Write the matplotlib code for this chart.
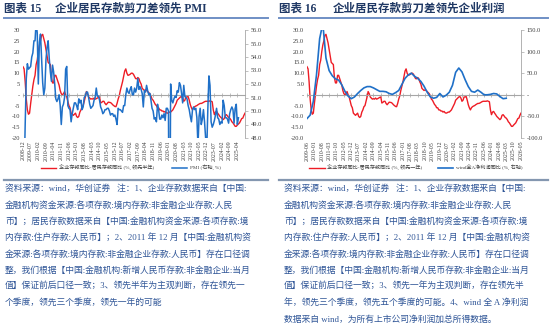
import matplotlib
matplotlib.use('Agg')
import matplotlib.pyplot as plt
import numpy as np
import pandas as pd
from matplotlib.lines import Line2D
from matplotlib.ticker import FuncFormatter

plt.rcParams['font.family'] = ['Liberation Serif', 'Noto Sans CJK SC']

# 企业存款同比-居民存款同比 (%), actual month 2008-06 .. 2025-05
spread_months = pd.period_range('2008-06', periods=204, freq='M')
spread = [
    13, 12, 6, -2, -7, -9, -8.5, -4, 0, 4, 7, 9,
    14, 16, 20, 23, 25, 27.5, 28, 26, 24, 21, 18, 15,
    14.5, 14, 8, 5.5, 5.5, 9, 9, 7.5, 6, 4.5, 2, 0.5,
    0, 0.5, 1.5, 0, -1, -3, -5, -6, -8.5, -9, -9.5, -9,
    -8.5, -10, -10.5, -10, -8, -7, -5.5, -5, -3, -1, 1.5, 0.5,
    -1, -1.5, -2, -1.8, -2, -1.5, -2, -1.8, -1.5, -1.2, -1, -3.8,
    -3.5, -3, -3, -4, -4.6, -4, -3.4, -3.5, -3.6, -4, -4.6, -5,
    -5.4, -5.5, -4, -2, -0.5, 2, 4, 6, 8.5, 11, 12, 10,
    9, 9.2, 9.5, 10, 10, 9.5, 8.5, 7.5, 7.4, 8, 7.5, 6,
    5, 3, 2.5, 2, 2.3, 2, 1.5, 1, 0.5, -0.5, -2, -2.5,
    -3.5, -4.5, -5, -6, -6, -7, -7, -7.5, -7.5, -8, -7.7, -8.3,
    -8.5, -8.3, -8, -8, -7.5, -7, -6, -5, -4, -2.5, -2, -1.5,
    -1, -0.8, -1.5, -3, -2.5, -1, -1, -0.8, -2.5, -4.6, -6, -7,
    -6, -5.5, -5.2, -5, -4.6, -4.3, -4, -4, -3.8, -3.5, -3.2, -3,
    -3, -3, -3, -2.8, -3, -3.2, -7, -9.2, -8, -7.7, -8.5, -9.2,
    -10, -10.5, -11, -11.5, -11, -9.5, -9.2, -9.8, -10.5, -10.8, -11.5, -12.5,
    -13, -13.8, -14.6, -14.6, -14, -13.5, -13, -12, -11, -10.8, -9.5, -8.5,
]

# 制造业PMI (%), 2008-12 .. 2025-05
pmi_months = pd.period_range('2008-12', periods=198, freq='M')
pmi = [
    41.2,
    45.3, 49.0, 52.4, 53.5, 53.1, 53.2, 53.3, 54.0, 54.3, 55.2, 55.2, 56.6,
    55.8, 52.0, 55.1, 55.7, 53.9, 52.1, 51.2, 51.7, 53.8, 54.7, 55.2, 53.9,
    52.9, 52.2, 53.4, 52.9, 52.0, 50.9, 50.7, 50.9, 51.2, 50.4, 49.0, 50.3,
    50.5, 51.0, 53.1, 53.3, 50.4, 50.2, 50.1, 49.2, 49.8, 50.2, 50.6, 50.6,
    50.4, 50.1, 50.9, 50.6, 50.8, 50.1, 50.3, 51.0, 51.1, 51.4, 51.4, 51.0,
    50.5, 50.2, 50.3, 50.4, 50.8, 51.0, 51.7, 51.1, 51.1, 50.8, 50.3, 50.1,
    49.8, 49.9, 50.1, 50.1, 50.2, 50.2, 50.0, 49.7, 49.8, 49.8, 49.6, 49.7,
    49.4, 49.0, 50.2, 50.1, 50.1, 50.0, 49.9, 50.4, 50.4, 51.2, 51.7, 51.4,
    51.3, 51.6, 51.8, 51.2, 51.2, 51.7, 51.4, 51.7, 52.4, 51.6, 51.8, 51.6,
    51.3, 50.3, 51.5, 51.4, 51.9, 51.5, 51.2, 51.3, 50.8, 50.2, 50.0, 49.4,
    49.5, 49.2, 50.5, 50.1, 49.4, 49.4, 49.7, 49.5, 49.8, 49.3, 50.2, 50.2,
    50.0, 35.7, 52.0, 50.8, 50.6, 50.9, 51.1, 51.0, 51.5, 51.4, 52.1, 51.9,
    51.3, 50.6, 51.9, 51.1, 51.0, 50.9, 50.4, 50.1, 49.6, 49.2, 50.1, 50.3,
    50.1, 50.2, 49.5, 47.4, 49.6, 50.2, 49.0, 49.4, 50.1, 49.2, 48.0, 47.0,
    50.1, 52.6, 51.9, 49.2, 48.8, 49.0, 49.3, 49.7, 50.2, 49.5, 49.4, 49.0,
    49.2, 49.1, 50.8, 50.4, 49.5, 49.5, 49.4, 49.1, 49.8, 50.1, 50.3, 50.1,
    49.1, 50.2, 50.5, 49.0, 49.5,
]

# category axes (month labels every 7 months)
left_axis = pd.period_range('2008-12', periods=204, freq='M')
right_axis = pd.period_range('2009-06', periods=204, freq='M')
left_tick_labels = [str(p) for p in left_axis[0:197:7]]
right_tick_labels = [str(p) for p in right_axis[0:204:7]]

# wind全A净利润同比 (%), quarterly, 2009-06 .. 2025-03
profit_months = right_axis[0:190:3]
profit = [
    -55, -47, -15, 46, 130, 165, 85, 56, 44, 37, 34, 23,
    8, -3, -9, -5, 3, 10, 16, 19, 19, 16, 12, 8,
    8, 7, 3, 1, 5, 10, 24, 38, 46, 50, 43, 38,
    31, 20, 6, -5, -8, -6, 3, -5, -1, 6, 22, 52,
    62, 53, 35, 19, 8, 6, 11, 6, 0, 0, 1, 3,
    2, -4, -9, -8,
]

footnote_common = [
    '资料来源：wind，华创证券   注：1、企业存款数据来自【中国:',
    '金融机构资金来源:各项存款:境内存款:非金融企业存款:人民',
    '币】；居民存款数据来自【中国:金融机构资金来源:各项存款:境',
    '内存款:住户存款:人民币】；2、2011 年 12 月【中国:金融机构资',
    '金来源:各项存款:境内存款:非金融企业存款:人民币】存在口径调',
    '整，我们根据【中国:金融机构:新增人民币存款:非金融企业:当月',
]
footnote_left = footnote_common + [
    '值】保证前后口径一致；3、领先半年为主观判断，存在领先一',
    '个季度，领先三个季度，领先一年的可能',
]
footnote_right = footnote_common + [
    '值】保证前后口径一致；3、领先一年为主观判断，存在领先半',
    '年，领先三个季度，领先五个季度的可能。4、wind 全 A 净利润',
    '数据来自 wind，为所有上市公司净利润加总所得数据。',
]

RED = '#ee1c25'
BLUE = '#1f70c8'
GRAY = '#a6a6a6'
TXT = '#404040'
NAVY = '#1f3864'
NOTE = '#2f5597'

W, H = 550, 335
fig = plt.figure(figsize=(W / 100, H / 100), dpi=100)
fig.patch.set_facecolor('white')


def box(x0, y0, x1, y1):
    return [x0 / W, 1 - y1 / H, (x1 - x0) / W, (y1 - y0) / H]


def pos(periods, start):
    return np.array([(p - start).n for p in periods])


def zero_dash(fmt):
    return FuncFormatter(lambda v, _: '-' if abs(v) < 1e-9 else fmt.format(v))


def style(ax, axr, labels):
    ax.set_xlim(0, 203)
    for s in ['top', 'left', 'right']:
        ax.spines[s].set_visible(False)
    ax.spines['bottom'].set_position(('data', 0))
    ax.spines['bottom'].set_color(GRAY)
    ax.spines['bottom'].set_linewidth(0.8)
    ticks = list(range(0, 7 * len(labels), 7))
    ax.set_xticks(ticks)
    ax.tick_params(axis='x', direction='inout', length=2.5, width=0.5,
                   color=GRAY, labelbottom=False)
    sec = ax.secondary_xaxis('bottom')
    sec.set_xticks(ticks, labels)
    sec.tick_params(length=0, labelsize=4.2, labelrotation=90, pad=2,
                    labelcolor=TXT)
    sec.spines['bottom'].set_visible(False)
    ax.tick_params(axis='y', length=0, labelsize=4.6, pad=2, labelcolor=TXT)
    for s in ['top', 'left', 'bottom']:
        axr.spines[s].set_visible(False)
    axr.spines['right'].set_color(GRAY)
    axr.spines['right'].set_linewidth(0.6)
    axr.tick_params(axis='y', direction='out', length=2, width=0.5,
                    color=GRAY, labelsize=4.6, pad=2, labelcolor=TXT)


# 图表15: 剪刀差 (领先半年) vs PMI
ax1 = fig.add_axes(box(23, 30, 245, 138))
ax1r = ax1.twinx()
l1, = ax1.plot(pos(spread_months + 6, left_axis[0]), spread, color=RED, lw=1.0)
l2, = ax1r.plot(pos(pmi_months, left_axis[0]), pmi, color=BLUE, lw=1.1)
ax1.set_ylim(-20, 30)
ax1.set_yticks(range(-20, 31, 5))
ax1.yaxis.set_major_formatter(zero_dash('{:g}'))
ax1r.set_ylim(48, 56)
ax1r.set_yticks(np.arange(48, 56.1, 1))
ax1r.yaxis.set_major_formatter(FuncFormatter(lambda v, _: f'{v:.1f}'))
style(ax1, ax1r, left_tick_labels)
ax1.legend([l1, l2], ['企业存款同比-居民存款同比 (%, 领先半年)', 'PMI (右轴, %)'],
           loc='center', bbox_to_anchor=(0.486, -0.272), ncol=2, frameon=False,
           fontsize=3.7, handlelength=3, handletextpad=0.5, columnspacing=3.5,
           labelcolor=TXT)

# 图表16: 剪刀差 (领先一年) vs 全A净利润
ax2 = fig.add_axes(box(307, 30, 521, 138))
ax2r = ax2.twinx()
r1, = ax2.plot(pos(spread_months + 12, right_axis[0]), spread, color=RED, lw=1.0)
r2, = ax2r.plot(pos(profit_months, right_axis[0]), profit, color=BLUE, lw=1.2)
ax2.set_ylim(-20, 30)
ax2.set_yticks(range(-20, 31, 5))
ax2.yaxis.set_major_formatter(zero_dash('{:.1f}'))
ax2r.set_ylim(-100, 150)
ax2r.set_yticks(range(-100, 151, 50))
ax2r.yaxis.set_major_formatter(zero_dash('{:.1f}'))
style(ax2, ax2r, right_tick_labels)
ax2.legend([r1, r2], ['企业存款同比-居民存款同比 (%, 领先一年)', 'wind全A净利润同比 (%, 右轴)'],
           loc='center', bbox_to_anchor=(0.509, -0.272), ncol=2, frameon=False,
           fontsize=3.7, handlelength=3, handletextpad=0.5, columnspacing=3.0,
           labelcolor=TXT)

# titles, rules and notes
for x0, x_title, num, title in [(4, 55, '图表 15', '企业居民存款剪刀差领先 PMI'),
                                (279, 333, '图表 16', '企业居民存款剪刀差领先企业利润')]:
    fig.text(x0 / W, 1 - 9 / H, num, fontsize=8.3, fontweight='bold',
             color=NAVY, va='center', ha='left')
    fig.text(x_title / W, 1 - 9 / H, title, fontsize=8.3, fontweight='bold',
             color=NAVY, va='center', ha='left')

for x0, x1 in [(4, 268), (279, 548)]:
    fig.add_artist(Line2D([x0 / W, x1 / W], [1 - 17.5 / H] * 2,
                          color='#6f8fc5', lw=1.4))
    fig.add_artist(Line2D([x0 / W, x1 / W], [1 - 180 / H] * 2,
                          color='#8497b0', lw=1.6))

for x0, lines in [(5, footnote_left), (284, footnote_right)]:
    for i, line in enumerate(lines):
        fig.text(x0 / W, 1 - (189 + 16.3 * i) / H, line, fontsize=6.35,
                 color=NOTE, va='center', ha='left')

fig.savefig('out.png', dpi=100, facecolor='white')
